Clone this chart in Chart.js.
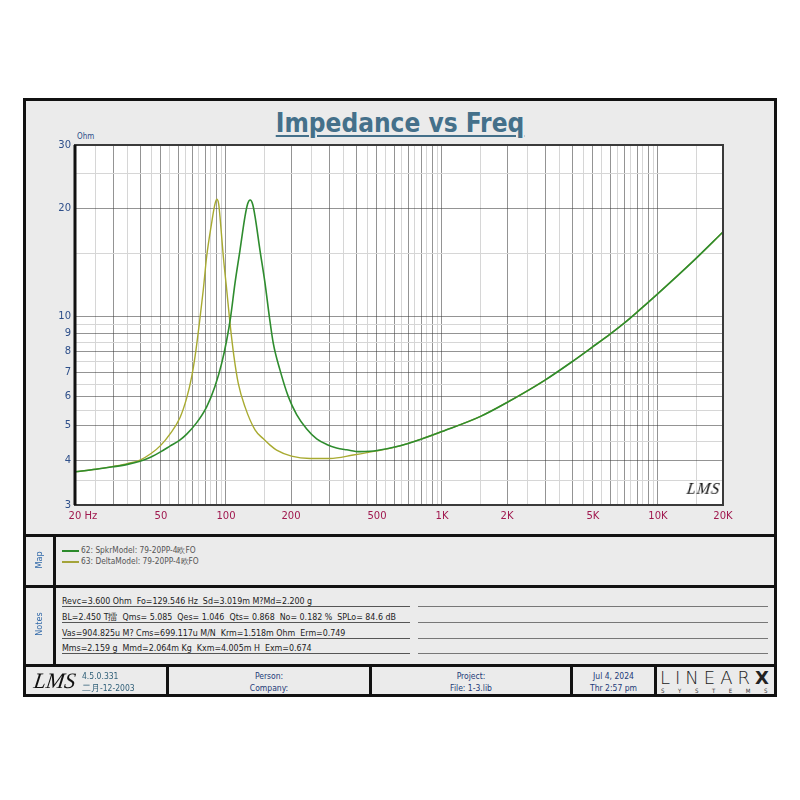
<!DOCTYPE html>
<html>
<head>
<meta charset="utf-8">
<script src="https://cdn.jsdelivr.net/npm/chart.js@4.4.1/dist/chart.umd.min.js"></script>
<style>
  body { margin: 0; background: #fff; font-family: "DejaVu Sans Condensed", "DejaVu Sans", sans-serif; }
  .abs { position: absolute; }
  #frame { left: 23px; top: 98px; width: 754px; height: 599px; border: 3px solid #111; box-sizing: border-box; background: #ebebeb; }
  .hbar { left: 23px; width: 754px; height: 3px; background: #111; }
  .vbar { width: 3px; background: #111; }
  #title { left: 0; width: 800px; top: 108px; text-align: center; font: bold 26px "DejaVu Sans Condensed", "DejaVu Sans", sans-serif; color: #44708a; }
  #title span { text-decoration: underline; text-decoration-thickness: 2px; text-underline-offset: 3px; }
  .side { font-size: 9px; color: #3068a8; transform: rotate(-90deg); transform-origin: center; width: 40px; text-align: center; }
  .map { font-size: 8.3px; color: #555; left: 62px; }
  .map i { display: inline-block; width: 17px; height: 2px; vertical-align: middle; margin-right: 2px; }
  .note { font-size: 8.8px; color: #222; left: 62px; width: 348px; border-bottom: 1px solid #555; height: 12px; line-height: 15px; white-space: pre; }
  .note2 { left: 418px; width: 350px; border-bottom: 1px solid #777; height: 12px; }
  .foot { font-size: 8.5px; color: #1c3a78; text-align: center; line-height: 12px; }
</style>
</head>
<body>
<div id="frame" class="abs"></div>
<div id="title" class="abs"><span>Impedance vs Freq</span></div>
<div class="abs" style="left:77px;top:132px;font-size:8px;color:#2e4f8a;">Ohm</div>
<canvas id="imp" class="abs" width="752" height="436" style="left:24px;top:99px;"></canvas>
<div class="abs" style="left:687px;top:480px;font:italic 16px 'Liberation Serif',serif;color:#111;transform:skewX(-8deg);letter-spacing:1px;">LMS</div>

<div class="abs hbar" style="top:534px;"></div>
<div class="abs hbar" style="top:585px;"></div>
<div class="abs hbar" style="top:664px;"></div>
<div class="abs vbar" style="left:53px;top:536px;height:130px;"></div>
<div class="abs side" style="left:19px;top:555px;">Map</div>
<div class="abs side" style="left:19px;top:619px;">Notes</div>

<div class="abs map" style="top:545px;"><i style="background:#2b8a2b"></i>62: SpkrModel: 79-20PP-4欧FO</div>
<div class="abs map" style="top:556px;"><i style="background:#a4a43a"></i>63: DeltaModel: 79-20PP-4欧FO</div>

<div class="abs note" style="top:594px;">Revc=3.600 Ohm  Fo=129.546 Hz  Sd=3.019m M?Md=2.200 g</div>
<div class="abs note" style="top:610px;">BL=2.450 T擂  Qms= 5.085  Qes= 1.046  Qts= 0.868  No= 0.182 %  SPLo= 84.6 dB</div>
<div class="abs note" style="top:626px;">Vas=904.825u M? Cms=699.117u M/N  Krm=1.518m Ohm  Erm=0.749</div>
<div class="abs note" style="top:641px;">Mms=2.159 g  Mmd=2.064m Kg  Kxm=4.005m H  Exm=0.674</div>
<div class="abs note2" style="top:594px;"></div>
<div class="abs note2" style="top:610px;"></div>
<div class="abs note2" style="top:626px;"></div>
<div class="abs note2" style="top:641px;"></div>

<div class="abs vbar" style="left:166px;top:666px;height:30px;"></div>
<div class="abs vbar" style="left:369px;top:666px;height:30px;"></div>
<div class="abs vbar" style="left:570px;top:666px;height:30px;"></div>
<div class="abs vbar" style="left:654px;top:666px;height:30px;"></div>
<div class="abs" style="left:34px;top:668px;font:italic 22px 'Liberation Serif',serif;color:#111;transform:skewX(-8deg);">LMS</div>
<div class="abs foot" style="left:82px;top:670px;text-align:left;color:#2f5f78;">4.5.0.331<br>二月-12-2003</div>
<div class="abs foot" style="left:169px;width:200px;top:670px;">Person:<br>Company:</div>
<div class="abs foot" style="left:372px;width:198px;top:670px;">Project:<br>File: 1-3.lib</div>
<div class="abs foot" style="left:573px;width:81px;top:670px;">Jul 4, 2024<br>Thr  2:57 pm</div>
<div class="abs" style="left:660px;top:667px;font:300 18px 'DejaVu Sans',sans-serif;color:#222;letter-spacing:5px;">LINEAR<b style="font-weight:900;letter-spacing:0;">X</b></div>
<div class="abs" style="left:661px;top:687px;font-size:6px;color:#333;letter-spacing:13.6px;">SYSTEMS</div>

<script>
// impedance curves (Hz, Ohm)
var spkrFreq = [20, 25, 30, 35, 40, 45, 50, 55, 61.3, 65.8, 73.2, 81.4, 88.9, 95.5, 100.8, 105.1, 110.1, 116.1, 122.5, 126, 129.5, 133, 136.3, 143.7, 151.6, 158.8, 165.6, 177.9, 194.4, 212.4, 236.5, 263, 292.7, 325, 362, 417, 464, 500, 640, 800, 1000, 1500, 2000, 3000, 4000, 5000, 6000, 7000, 8000, 10000, 14600, 20000];
var spkrOhm = [3.71, 3.77, 3.83, 3.89, 3.97, 4.08, 4.22, 4.37, 4.55, 4.72, 5.08, 5.62, 6.40, 7.42, 8.62, 10.0, 12.4, 15.3, 19.0, 20.6, 21.1, 20.5, 19.0, 15.3, 12.4, 10.0, 8.44, 7.11, 6.0, 5.35, 4.88, 4.58, 4.42, 4.32, 4.27, 4.22, 4.23, 4.25, 4.38, 4.57, 4.80, 5.28, 5.78, 6.67, 7.50, 8.26, 8.95, 9.62, 10.30, 11.60, 14.3, 17.2];

var deltaFreq = [20, 25, 30, 35, 40, 45, 50, 55, 61.3, 65.8, 69.4, 71.9, 75.3, 78.5, 81.4, 85.8, 88.5, 90.6, 92.5, 93.8, 97.2, 100.8, 104.4, 108.9, 114, 122.5, 136.3, 149, 160, 171.6, 201, 245, 303, 388, 500, 640, 800, 1000, 1500, 2000, 3000, 4000, 5000, 6000, 7000, 8000, 10000, 14600, 20000];
var deltaOhm = [3.71, 3.77, 3.84, 3.91, 4.00, 4.17, 4.40, 4.72, 5.25, 5.95, 6.82, 7.75, 9.59, 11.87, 14.7, 18.2, 20.3, 21.2, 20.6, 19.0, 14.7, 11.87, 9.59, 7.75, 6.53, 5.62, 4.85, 4.58, 4.40, 4.26, 4.10, 4.04, 4.04, 4.13, 4.24, 4.38, 4.57, 4.80, 5.28, 5.78, 6.67, 7.50, 8.26, 8.95, 9.62, 10.30, 11.60, 14.3, 17.2];

// grid / tick positions
var xMajor = [20, 30, 40, 50, 60, 70, 80, 90, 100, 200, 300, 400, 500, 600, 700, 800, 900, 1000, 2000, 3000, 4000, 5000, 6000, 7000, 8000, 9000, 10000, 20000];
var xMinor = [25, 35, 45, 55, 65, 75, 85, 95, 150, 250, 350, 450, 550, 650, 750, 850, 950, 1500, 2500, 3500, 4500, 5500, 6500, 7500, 8500, 9500, 15000];
var xLabelAt = [20, 50, 100, 200, 500, 1000, 2000, 5000, 10000, 20000];
var xLabelText = ['     20 Hz', '50', '100', '200', '500', '1K', '2K', '5K', '10K', '20K'];
var yMajor = [3, 4, 5, 6, 7, 8, 9, 10, 20, 30];
var yMinor = [3.5, 4.5, 5.5, 6.5, 7.5, 8.5, 9.5, 15, 25];

function pts(xs, ys) {
	return xs.map(function (v, i) { return { x: v, y: ys[i] }; });
}
function tickList(a, b) {
	return a.concat(b).sort(function (p, q) { return p - q; }).map(function (v) { return { value: v }; });
}
function gridColor(major) {
	return function (c) {
		return major.indexOf(c.tick.value) >= 0 ? "rgba(60,60,60,0.55)" : "#d6d6d6";
	};
}

var plotFrame = {
	id: 'plotFrame',
	beforeDraw: function (chart) {
		var a = chart.chartArea, ctx = chart.ctx;
		ctx.save();
		ctx.fillStyle = "#fff";
		ctx.fillRect(a.left, a.top, a.right - a.left, a.bottom - a.top);
		ctx.restore();
	},
	afterDraw: function (chart) {
		var a = chart.chartArea, ctx = chart.ctx;
		ctx.save();
		ctx.strokeStyle = "#3a3a3a";
		ctx.lineWidth = 2;
		ctx.strokeRect(a.left, a.top, a.right - a.left, a.bottom - a.top);
		ctx.strokeStyle = "#111";
		ctx.lineWidth = 3;
		ctx.beginPath();
		ctx.moveTo(a.left, a.top);
		ctx.lineTo(a.left, a.bottom);
		ctx.stroke();
		ctx.restore();
	}
};

new Chart(document.getElementById("imp"), {
	type: 'line',
	data: {
		datasets: [{
			label: "62: SpkrModel",
			data: pts(spkrFreq, spkrOhm),
			borderColor: "#2e8c2e",
			borderWidth: 1.6,
			pointRadius: 0,
			cubicInterpolationMode: 'monotone',
			fill: false
		}, {
			label: "63: DeltaModel",
			data: pts(deltaFreq, deltaOhm),
			borderColor: "#a8aa30",
			borderWidth: 1.4,
			pointRadius: 0,
			cubicInterpolationMode: 'monotone',
			fill: false
		}]
	},
	options: {
		responsive: false,
		animation: false,
		layout: { padding: { top: 46, right: 53, left: 0, bottom: 0 } },
		plugins: { legend: { display: false }, tooltip: { enabled: false } },
		scales: {
			x: {
				type: 'logarithmic',
				min: 20,
				max: 20000,
				afterBuildTicks: function (s) { s.ticks = tickList(xMajor, xMinor); },
				afterFit: function (s) { s.height = 30; },
				border: { display: false },
				grid: { color: gridColor(xMajor), drawTicks: false, lineWidth: 1 },
				ticks: {
					autoSkip: false,
					maxRotation: 0,
					padding: 5,
					color: "#a0184e",
					font: { family: "DejaVu Sans", size: 10 },
					callback: function (v) {
						var k = xLabelAt.indexOf(v);
						return k >= 0 ? xLabelText[k] : '';
					}
				}
			},
			y: {
				type: 'logarithmic',
				min: 3,
				max: 30,
				afterBuildTicks: function (s) { s.ticks = tickList(yMajor, yMinor); },
				afterFit: function (s) { s.width = 51; },
				border: { display: false },
				grid: { color: gridColor(yMajor), drawTicks: false, lineWidth: 1 },
				ticks: {
					autoSkip: false,
					padding: 4,
					color: "#2e4f8a",
					font: { family: "DejaVu Sans", size: 10 },
					callback: function (v) { return yMajor.indexOf(v) >= 0 ? String(v) : ''; }
				}
			}
		}
	},
	plugins: [plotFrame]
});
</script>
</body>
</html>
